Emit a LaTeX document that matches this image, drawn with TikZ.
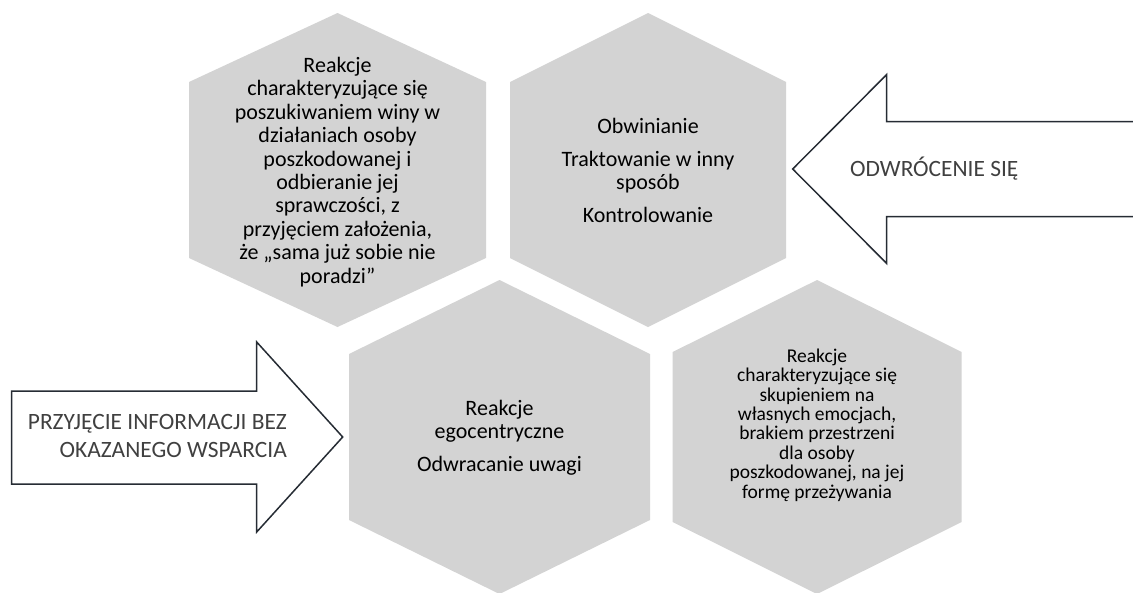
\documentclass[tikz,border=0pt]{standalone}
\usepackage{fontspec}
\setmainfont{Carlito}
\definecolor{hexfill}{RGB}{211,211,211}
\definecolor{arrowline}{RGB}{38,44,52}
\definecolor{arrowtext}{RGB}{64,64,64}
\begin{document}
\begin{tikzpicture}[x=1pt,y=-1pt,
  hexcell/.style={fill=hexfill,draw=none},
  hextext/.style={align=center,text=black,inner sep=0pt,
    font=\fontsize{22}{23.4}\selectfont},
  hexsmall/.style={hextext,font=\fontsize{19.5}{19.4}\selectfont},
  arrowbody/.style={draw=arrowline,line width=1.5pt,fill=white,line join=miter},
  arrowlabel/.style={text=arrowtext,inner sep=0pt,
    font=\fontsize{23.4}{28.5}\selectfont}]
\useasboundingbox (0,0) rectangle (1133,592);
\clip (0,0) rectangle (1133,592);

% hexagon cluster
\fill[hexcell] (337.5,13) -- (486,82) -- (486,258) -- (337.5,327) -- (189,258) -- (189,82) -- cycle;
\fill[hexcell] (648,13) -- (786,82) -- (786,258) -- (648,327) -- (510,258) -- (510,82) -- cycle;
\fill[hexcell] (499.5,280) -- (650,354) -- (650,520) -- (499.5,594) -- (349,520) -- (349,354) -- cycle;
\fill[hexcell] (817,280) -- (961.7,352) -- (961.7,522) -- (817,594) -- (672.7,522) -- (672.7,352) -- cycle;

\node[hextext] (blame) at (337.5,172) {Reakcje\\charakteryzujące się\\poszukiwaniem winy w\\działaniach osoby\\poszkodowanej i\\odbieranie jej\\sprawczości, z\\przyjęciem założenia,\\że „sama już sobie nie\\poradzi”};
\node[hextext] (control) at (648,170.5) {Obwinianie\\[9pt]Traktowanie w inny\\sposób\\[9pt]Kontrolowanie};
\node[hextext] (ego) at (499.5,437.5) {Reakcje\\egocentryczne\\[9pt]Odwracanie uwagi};
\node[hexsmall] (focus) at (817,425) {Reakcje\\charakteryzujące się\\skupieniem na\\własnych emocjach,\\brakiem przestrzeni\\dla osoby\\poszkodowanej, na jej\\formę przeżywania};

% block arrows
\draw[arrowbody] (11.7,391) -- (256.7,391) -- (256.7,342) -- (342.7,437)
  -- (256.7,532) -- (256.7,484) -- (11.7,484) -- cycle;
\draw[arrowbody] (1145,121.7) -- (886.7,121.7) -- (886.7,74.5) -- (792.7,169)
  -- (886.7,263.5) -- (886.7,216.7) -- (1145,216.7) -- cycle;

\node[arrowlabel,align=right,anchor=east] (accept) at (287,436) {PRZYJĘCIE INFORMACJI BEZ\\OKAZANEGO WSPARCIA};
\node[arrowlabel,anchor=west] (turn) at (850,169) {ODWRÓCENIE SIĘ};
\end{tikzpicture}
\end{document}
